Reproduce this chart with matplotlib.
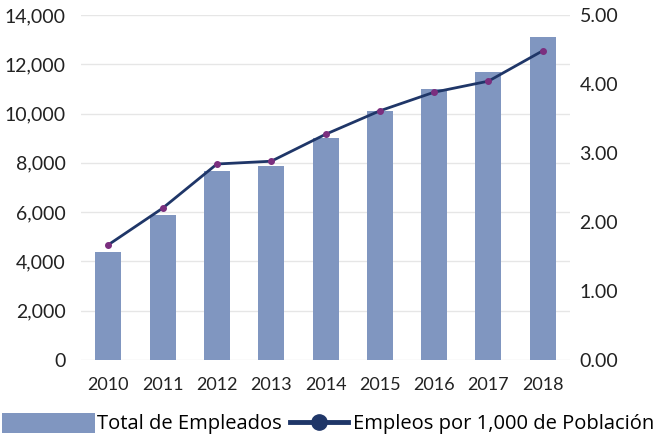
import matplotlib.pyplot as plt
from matplotlib.lines import Line2D
from matplotlib.patches import Patch
from matplotlib.ticker import FuncFormatter

years = ["2010", "2011", "2012", "2013", "2014", "2015", "2016", "2017", "2018"]
total_empleados = [4380, 5900, 7680, 7890, 9020, 10120, 11000, 11680, 13120]
empleos_por_mil = [1.67, 2.20, 2.84, 2.88, 3.27, 3.61, 3.88, 4.04, 4.48]

bar_color = "#8096c0"
line_color = "#1f3668"
point_color = "#7b2f7f"

plt.rcParams['font.family'] = ['Lato', 'DejaVu Sans']
legend_font = {"family": ["Open Sans", "DejaVu Sans"], "size": 14.5}

fig = plt.figure(figsize=(6.55, 4.38), dpi=100)
ax = fig.add_axes([0.124, 0.178, 0.746, 0.788])
ax2 = ax.twinx()

x = range(len(years))
ax.bar(x, total_empleados, width=0.48, color=bar_color, zorder=2)
ax2.plot(x, empleos_por_mil, color=line_color, linewidth=2, zorder=3)
ax2.plot(x, empleos_por_mil, linestyle="none", marker="o", markersize=4,
         color=point_color, zorder=4)

ax.set_xlim(-0.5, len(years) - 0.5)
ax.set_ylim(0, 14000)
ax.set_yticks(range(0, 14001, 2000))
ax.yaxis.set_major_formatter(FuncFormatter(lambda v, p: f"{int(v):,}"))
ax2.set_ylim(0, 5)
ax2.set_yticks([0, 1, 2, 3, 4, 5])
ax2.yaxis.set_major_formatter(FuncFormatter(lambda v, p: f"{v:.2f}"))
ax.set_xticks(list(x))
ax.set_xticklabels(years)

ax.grid(axis="y", color="#e6e6e6", linewidth=1, zorder=0)
ax.set_axisbelow(True)
for a in (ax, ax2):
    for s in a.spines.values():
        s.set_visible(False)
    a.tick_params(length=0, labelsize=14, colors="#222222")
ax.tick_params(axis="y", pad=11)
ax2.tick_params(axis="y", pad=7)
ax.tick_params(axis="x", pad=12, labelsize=13)

# deux légendes séparées pour avoir des symboles de largeurs différentes
bar_handle = Patch(facecolor=bar_color, label="Total de Empleados")
line_handle = Line2D([], [], color=line_color, linewidth=3.5, marker="o",
                     markersize=11, label="Empleos por 1,000 de Población")

fig.legend(handles=[bar_handle], loc="lower left", bbox_to_anchor=(0.003, 0.008),
           frameon=False, handlelength=4.6, handleheight=1.15,
           handletextpad=0.1, borderpad=0, borderaxespad=0, prop=legend_font)
fig.legend(handles=[line_handle], loc="lower left", bbox_to_anchor=(0.443, 0.008),
           frameon=False, handlelength=2.85, handletextpad=0.25,
           borderpad=0, borderaxespad=0, prop=legend_font)

fig.savefig("out.png", dpi=100)
